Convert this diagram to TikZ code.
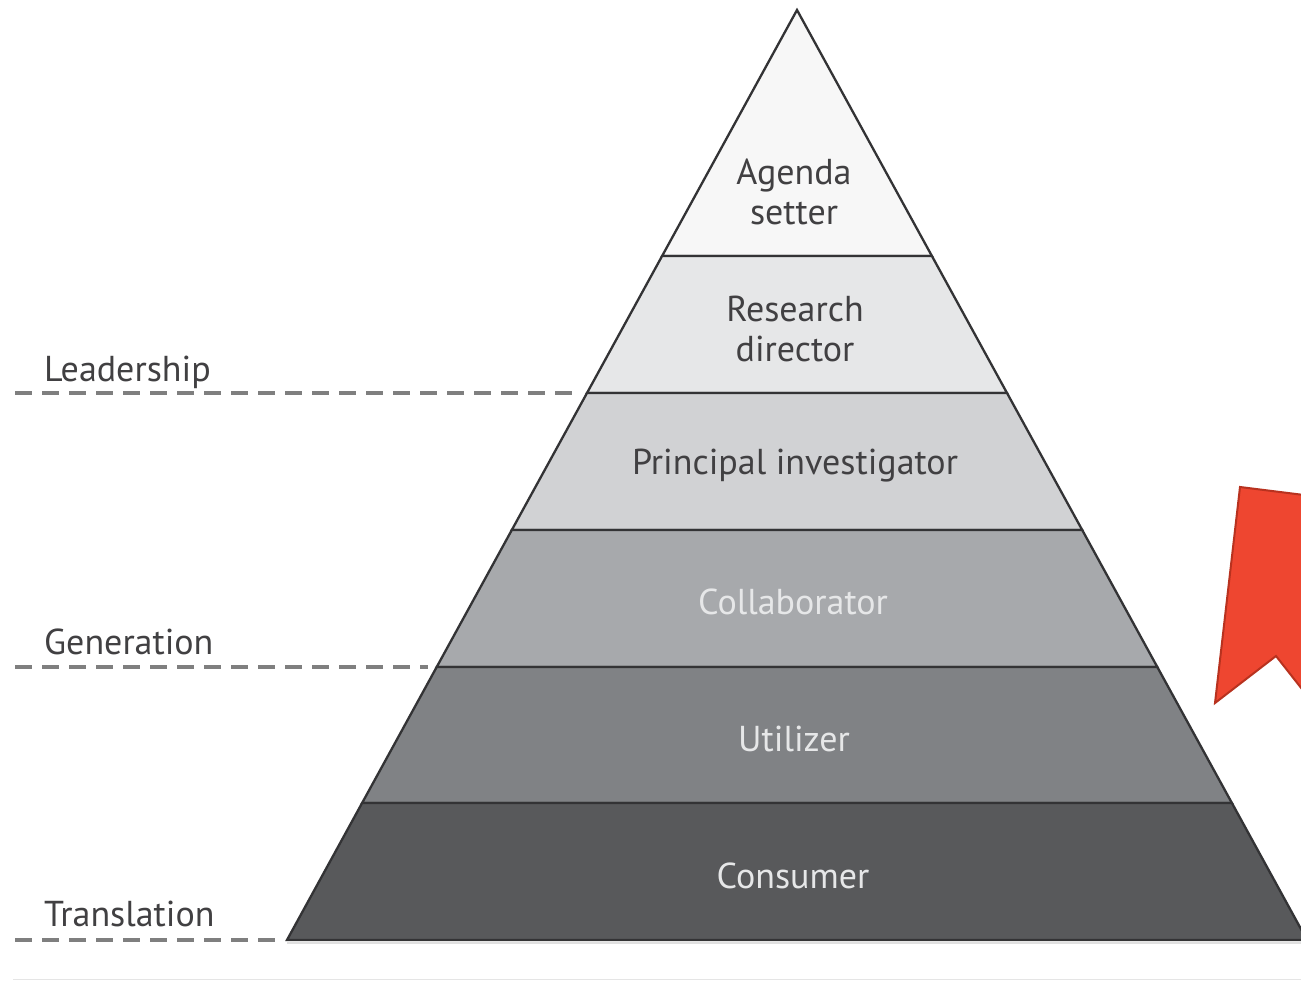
\documentclass[tikz,border=0pt]{standalone}
\usepackage{fontspec}
\setmainfont{PT Sans}
\definecolor{b1}{HTML}{F7F7F7}
\definecolor{b2}{HTML}{E6E7E8}
\definecolor{b3}{HTML}{D1D2D4}
\definecolor{b4}{HTML}{A7A9AC}
\definecolor{b5}{HTML}{808285}
\definecolor{b6}{HTML}{58595B}
\definecolor{edge}{HTML}{333335}
\definecolor{darktxt}{HTML}{414042}
\definecolor{lighttxt}{HTML}{E6E7E8}
\definecolor{dashc}{HTML}{7F7F7F}
\definecolor{redc}{HTML}{EE4630}
\definecolor{redd}{HTML}{B8321F}
\begin{document}
\begin{tikzpicture}[x=1pt,y=-1pt,
  band/.style={draw=edge,line width=2.3pt,line join=miter},
  lbl/.style={font=\fontsize{36}{40}\selectfont,align=center,inner sep=0pt},
  side/.style={font=\fontsize{36}{40}\selectfont,anchor=base west,inner sep=0pt,text=darktxt},
  lvl/.style={draw=dashc,line width=3.4pt,dash pattern=on 17pt off 10pt}]
\useasboundingbox (0,0) rectangle (1301,980);
\fill[white] (0,0) rectangle (1301,980);
\begin{scope}
\clip (0,0) rectangle (1301,980);
% pyramid bands (x_left = 797 - 0.5484*(y-10))
\path[band,fill=b1] (797,10) -- (662.1,256) -- (931.9,256) -- cycle;
\path[band,fill=b2] (662.1,256) -- (587,393) -- (1007,393) -- (931.9,256) -- cycle;
\path[band,fill=b3] (587,393) -- (511.8,530) -- (1082.2,530) -- (1007,393) -- cycle;
\path[band,fill=b4] (511.8,530) -- (436.7,667) -- (1157.3,667) -- (1082.2,530) -- cycle;
\path[band,fill=b5] (436.7,667) -- (362.1,803) -- (1231.9,803) -- (1157.3,667) -- cycle;
\path[band,fill=b6] (362.1,803) -- (287,940) -- (1307,940) -- (1231.9,803) -- cycle;
% faint lines
\draw[black!12,line width=1.5pt] (287,943) -- (1301,943);
\draw[black!10,line width=1pt] (13,979) -- (1301,979);
% red bookmark
\path[draw=redd,line width=2pt,fill=redc,line join=miter]
  (1240,487) -- (1320,497) -- (1320,712) -- (1276,656) -- (1215,703) -- cycle;
\end{scope}
% labels
\node[lbl,text=darktxt] (agenda) at (794,192) {Agenda\\setter};
\node[lbl,text=darktxt] (research) at (795,329) {Research\\director};
\node[lbl,text=darktxt] (pi) at (795,466) {Principal investigator};
\node[lbl,text=lighttxt] (collab) at (793,602) {Collaborator};
\node[lbl,text=lighttxt] (util) at (794,739) {Utilizer};
\node[lbl,text=lighttxt] (cons) at (793,876) {Consumer};
% side levels
\node[side] (lead) at (44,381) {Leadership};
\node[side] (gen) at (44,654) {Generation};
\node[side] (trans) at (44,926) {Translation};
\coordinate (d1) at (15,393);
\coordinate (d2) at (15,667);
\coordinate (d3) at (15,940);
\draw[lvl] (d1) -- (575,393);
\draw[lvl] (d2) -- (428,667);
\draw[lvl] (d3) -- (282,940);
\end{tikzpicture}
\end{document}
